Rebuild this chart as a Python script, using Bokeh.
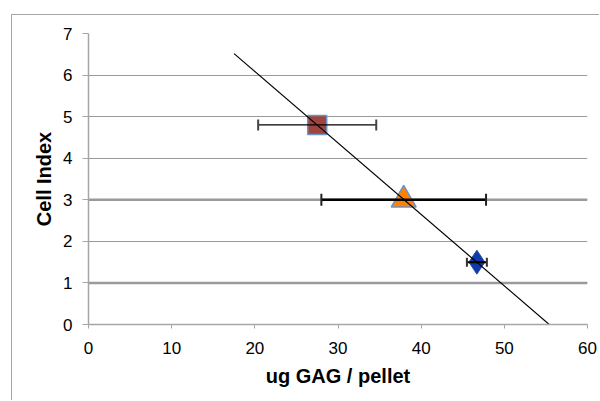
import numpy as np
from bokeh.plotting import figure
from bokeh.models import ColumnDataSource, Whisker, Span, Range1d, FixedTicker
from bokeh.embed import file_html
from bokeh.resources import INLINE

# Measurements: GAG content per pellet vs. cell index, with x error (SD)
gag_sq, ci_sq, err_sq = [27.5], [4.8], [7.1]
gag_tri, ci_tri, err_tri = [37.9], [3.0], [9.9]
gag_dia, ci_dia, err_dia = [46.7], [1.5], [1.2]

x_ticks = [0, 10, 20, 30, 40, 50, 60]
y_ticks = [0, 1, 2, 3, 4, 5, 6, 7]

# Linear trendline through all three points
all_x = np.array(gag_sq + gag_tri + gag_dia)
all_y = np.array(ci_sq + ci_tri + ci_dia)
slope, intercept = np.polyfit(all_x, all_y, 1)
trend_x = [17.5, 60.0]
trend_y = [slope * x + intercept for x in trend_x]

FONT = "Liberation Sans"

p = figure(width=588, height=386, output_backend="svg", toolbar_location=None,
           x_range=Range1d(0, 60), y_range=Range1d(0, 7),
           min_border_left=76, min_border_right=13, min_border_top=18,
           min_border_bottom=77)
p.margin = (14, 0, 0, 11)
p.styles = {"border-left": "1px solid #a6a6a6", "border-top": "1px solid #a6a6a6"}
p.outline_line_color = None
p.background_fill_color = "white"
p.border_fill_color = "white"

# Axes
for ax in (p.xaxis[0], p.yaxis[0]):
    ax.axis_line_color = "#a6a6a6"
    ax.axis_line_width = 1.5
    ax.major_tick_line_color = "#a6a6a6"
    ax.major_tick_in = 0
    ax.minor_tick_line_color = None
    ax.major_label_text_font = FONT
    ax.major_label_text_font_size = "17px"
    ax.major_label_text_color = "black"
    ax.axis_label_text_font = FONT
    ax.axis_label_text_font_style = "bold"
    ax.axis_label_text_font_size = "20px"
    ax.axis_label_text_color = "black"

p.xaxis.major_tick_out = 4
p.yaxis.major_tick_out = 6
p.xaxis.ticker = FixedTicker(ticks=x_ticks)
p.yaxis.ticker = FixedTicker(ticks=y_ticks)
p.xaxis.axis_label = "ug GAG / pellet"
p.yaxis.axis_label = "Cell Index"
p.xaxis.major_label_standoff = 13
p.yaxis.major_label_standoff = 10
p.xaxis.axis_label_standoff = 8
p.yaxis.axis_label_standoff = 5

p.xgrid.grid_line_color = None
p.ygrid.grid_line_color = "#9a9a9a"
p.ygrid.grid_line_width = 1.2

# heavier gridlines that render darker in the original export
for yv in (1, 3):
    p.add_layout(Span(location=yv, dimension="width", line_color="#9a9a9a",
                      line_width=2.5, level="underlay"))

# Error bars
def add_whisker(xs, ys, errs, width, cap_color, cap_size):
    src = ColumnDataSource(dict(y=ys, lo=[x - e for x, e in zip(xs, errs)],
                                hi=[x + e for x, e in zip(xs, errs)]))
    w = Whisker(source=src, base="y", lower="lo", upper="hi", dimension="width",
                line_color="black", line_width=width, level="glyph")
    for head in (w.upper_head, w.lower_head):
        head.size = cap_size
        head.line_color = cap_color
        head.line_width = 2
    p.add_layout(w)

add_whisker(gag_sq, ci_sq, err_sq, 1.2, "#444444", 11)
add_whisker(gag_tri, ci_tri, err_tri, 2.5, "#222222", 12)
add_whisker(gag_dia, ci_dia, err_dia, 2, "#333333", 9)

# Markers
p.scatter(gag_sq, ci_sq, marker="square", size=19, fill_color="#a0453d",
          line_color="#6d93c6", line_width=1.5)
p.scatter(gag_tri, ci_tri, marker="triangle", size=25, fill_color="#ff8200",
          line_color="#6d93c6", line_width=1.5)
p.scatter(gag_dia, ci_dia, marker="diamond", size=24, fill_color="#0f3aa8",
          line_color="#2c4fb0", line_width=1)

# Trendline drawn over the markers
p.line(trend_x, trend_y, line_color="black", line_width=1.2)

open("out.html", "w").write(file_html(p, INLINE))
